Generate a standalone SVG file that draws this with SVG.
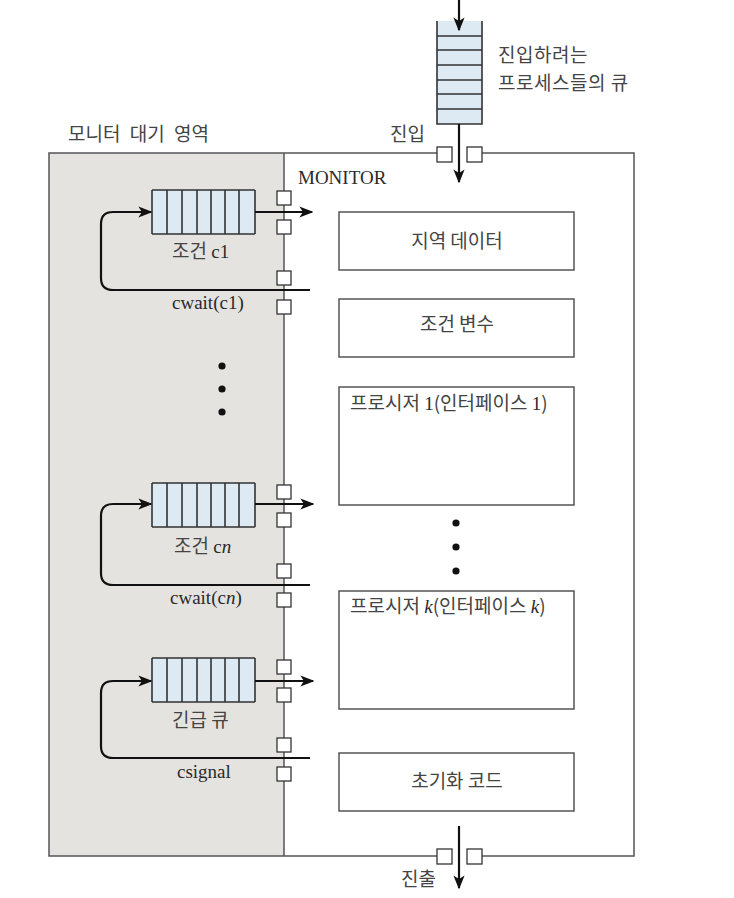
<svg xmlns="http://www.w3.org/2000/svg" width="734" height="898" viewBox="0 0 734 898">
<defs>
<style>
.ko{font-family:"Noto Sans CJK KR","Noto Sans",sans-serif;font-size:19px;fill:#444}
.la{font-family:"Liberation Serif",serif;font-size:19px;fill:#2a2a2a}
.box{fill:#fff;stroke:#555;stroke-width:1.5}
.sq{fill:#fff;stroke:#333;stroke-width:1.3}
.q{fill:#dde9f3}
.ql{stroke:#333;stroke-width:1.6;fill:none}
.ar{stroke:#111;stroke-width:2.2;fill:none}
.ln{stroke:#555;stroke-width:1.5;fill:none}
</style>
<marker id="ahb" viewBox="0 0 10 10" refX="9" refY="5" markerWidth="14" markerHeight="14" orient="auto" markerUnits="userSpaceOnUse">
<path d="M0,1 L10,5 L0,9 L2.5,5 z" fill="#111"/>
</marker>
<g id="hq">
<rect class="q" x="0" y="0" width="103" height="44"/>
<path class="ql" d="M0,0 H103 M0,44 H103 M0,0 V44 M15,0 V44 M30,0 V44 M45,0 V44 M59,0 V44 M73,0 V44 M87,0 V44 M103,0 V44"/>
</g>
</defs>

<g id="waiting-area">
<rect x="49" y="153" width="235" height="703" fill="#e4e3e0"/>
</g>
<g id="monitor-frame">
<path class="ln" d="M437,153 H49 V856 H437 M482,856 H634 V153 H482"/>
<line class="ln" x1="284" y1="153" x2="284" y2="856" stroke-width="1.2"/>
</g>

<g id="labels">
<text class="ko" x="68" y="141" word-spacing="5">모니터 대기 영역</text>
<text class="ko" x="390" y="141">진입</text>
<text class="la" x="298" y="184" font-size="18.5">MONITOR</text>
<text class="ko" x="498" y="62" letter-spacing="0.5">진입하려는</text>
<text class="ko" x="498" y="90" letter-spacing="0.5">프로세스들의 큐</text>
<text class="ko" x="401" y="886">진출</text>
</g>

<g id="entry-queue">
<rect class="q" x="437" y="21" width="45" height="103"/>
<path class="ql" d="M437,21 V124 H482 V21 M437,36 H482 M437,50 H482 M437,65 H482 M437,80 H482 M437,94 H482 M437,109 H482"/>
</g>

<g id="queue-c1">
<use href="#hq" x="152" y="190"/>
<text class="ko" x="172" y="258">조건 <tspan class="la">c1</tspan></text>
<text class="la" x="172" y="309">cwait(c1)</text>
</g>
<g id="queue-cn">
<use href="#hq" x="152" y="483"/>
<text class="ko" x="174" y="553">조건 <tspan class="la">c<tspan font-style="italic">n</tspan></tspan></text>
<text class="la" x="170" y="604">cwait(c<tspan font-style="italic">n</tspan>)</text>
</g>
<g id="queue-urgent">
<use href="#hq" x="152" y="658"/>
<text class="ko" x="172" y="727">긴급 큐</text>
<text class="la" x="177" y="778">csignal</text>
</g>

<g id="dots">
<circle cx="222" cy="366" r="3.6" fill="#111"/>
<circle cx="222" cy="389" r="3.6" fill="#111"/>
<circle cx="222" cy="412" r="3.6" fill="#111"/>
<circle cx="456" cy="523" r="3.6" fill="#111"/>
<circle cx="456" cy="547" r="3.6" fill="#111"/>
<circle cx="456" cy="571" r="3.6" fill="#111"/>
</g>

<g id="local-data"><rect class="box" x="339" y="212" width="235" height="58"/><text class="ko" x="457" y="248" text-anchor="middle">지역 데이터</text></g>
<g id="cond-vars"><rect class="box" x="339" y="299" width="235" height="58"/><text class="ko" x="457" y="331" text-anchor="middle">조건 변수</text></g>
<g id="proc-1"><rect class="box" x="339" y="387" width="235" height="118"/><text class="ko" x="350" y="410">프로시저 <tspan class="la">1</tspan>(인터페이스 <tspan class="la">1</tspan>)</text></g>
<g id="proc-k"><rect class="box" x="339" y="591" width="235" height="118"/><text class="ko" x="350" y="613">프로시저 <tspan class="la" font-style="italic">k</tspan>(인터페이스 <tspan class="la" font-style="italic">k</tspan>)</text></g>
<g id="init-code"><rect class="box" x="339" y="753" width="235" height="58"/><text class="ko" x="457" y="788" text-anchor="middle">초기화 코드</text></g>

<g id="ports">
<rect class="sq" x="437" y="147" width="15" height="15"/>
<rect class="sq" x="467" y="147" width="15" height="15"/>
<rect class="sq" x="437" y="849" width="15" height="15"/>
<rect class="sq" x="467" y="849" width="15" height="15"/>
<rect class="sq" x="277" y="191" width="14" height="14"/>
<rect class="sq" x="277" y="220" width="14" height="14"/>
<rect class="sq" x="277" y="271" width="14" height="14"/>
<rect class="sq" x="277" y="300" width="14" height="14"/>
<rect class="sq" x="277" y="485" width="14" height="14"/>
<rect class="sq" x="277" y="513" width="14" height="14"/>
<rect class="sq" x="277" y="564" width="14" height="14"/>
<rect class="sq" x="277" y="593" width="14" height="14"/>
<rect class="sq" x="277" y="660" width="14" height="14"/>
<rect class="sq" x="277" y="688" width="14" height="14"/>
<rect class="sq" x="277" y="738" width="14" height="14"/>
<rect class="sq" x="277" y="767" width="14" height="14"/>
</g>

<g id="connectors">
<line class="ar" x1="459" y1="0" x2="459" y2="30" marker-end="url(#ahb)"/>
<line class="ar" x1="459" y1="124" x2="459" y2="182" marker-end="url(#ahb)"/>
<line class="ar" x1="459" y1="826" x2="459" y2="888" marker-end="url(#ahb)"/>
<line class="ar" x1="255" y1="212" x2="312" y2="212" marker-end="url(#ahb)"/>
<path class="ar" d="M310,290 H113 Q101,290 101,278 V224 Q101,212 113,212 H151" marker-end="url(#ahb)"/>
<line class="ar" x1="255" y1="504" x2="313" y2="504" marker-end="url(#ahb)"/>
<path class="ar" d="M310,585 H113 Q101,585 101,573 V516 Q101,504 113,504 H151" marker-end="url(#ahb)"/>
<line class="ar" x1="255" y1="681" x2="313" y2="681" marker-end="url(#ahb)"/>
<path class="ar" d="M310,758 H113 Q101,758 101,746 V693 Q101,681 113,681 H151" marker-end="url(#ahb)"/>
</g>
</svg>
